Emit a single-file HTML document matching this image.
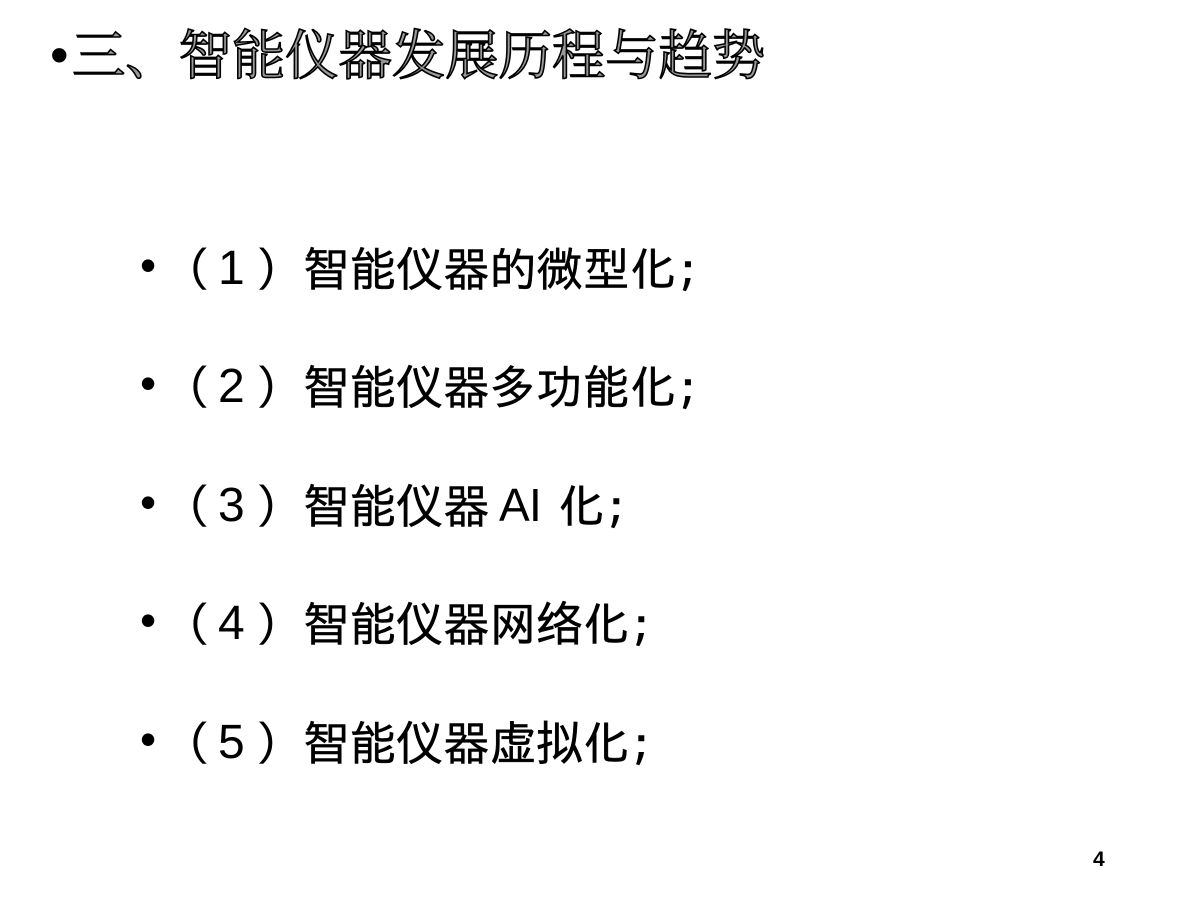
<!DOCTYPE html>
<html lang="zh"><head><meta charset="utf-8"><style>
html,body{margin:0;padding:0;background:#fff}
#p{position:relative;width:1200px;height:900px;overflow:hidden;background:#fff;color:#000;font-family:"Liberation Sans",sans-serif}
.t{position:absolute;white-space:pre;line-height:1}
.b{font-size:46.67px;font-family:"IPAGothic","WenQuanYi Zen Hei",sans-serif;-webkit-text-stroke:0.45px #000}
.n{font-size:48px;font-family:"Liberation Sans",sans-serif}
.d{font-size:46px}
.title{font-size:53.33px;font-family:"Noto Serif CJK SC",serif;font-weight:400;color:#999;-webkit-text-stroke:1.6px #000}
</style></head><body><div id="p">
<div class="t" style="left:50px;top:29px;font-size:53px">•</div>
<div class="t title" style="left:72px;top:26px">三、智能仪器发展历程与趋势</div>

<div class="t d" style="left:140px;top:242px">•</div>
<div class="t b" style="left:163px;top:246px">（</div>
<div class="t n" style="left:218px;top:245px">1</div>
<div class="t b" style="left:256px;top:246px">）</div>
<div class="t b" style="left:303px;top:246px">智能仪器的微型化;</div>

<div class="t d" style="left:140px;top:360px">•</div>
<div class="t b" style="left:163px;top:364px">（</div>
<div class="t n" style="left:218px;top:363px">2</div>
<div class="t b" style="left:256px;top:364px">）</div>
<div class="t b" style="left:303px;top:364px">智能仪器多功能化;</div>

<div class="t d" style="left:140px;top:479px">•</div>
<div class="t b" style="left:163px;top:483px">（</div>
<div class="t n" style="left:218px;top:482px">3</div>
<div class="t b" style="left:256px;top:483px">）</div>
<div class="t b" style="left:303px;top:483px">智能仪器</div>
<div class="t n" style="left:499px;top:482px;font-size:46px">A</div>
<div class="t n" style="left:529px;top:482px;font-size:46px">I</div>
<div class="t b" style="left:558px;top:483px">化;</div>

<div class="t d" style="left:140px;top:597px">•</div>
<div class="t b" style="left:163px;top:601px">（</div>
<div class="t n" style="left:218px;top:600px">4</div>
<div class="t b" style="left:256px;top:601px">）</div>
<div class="t b" style="left:303px;top:601px">智能仪器网络化;</div>

<div class="t d" style="left:140px;top:716px">•</div>
<div class="t b" style="left:163px;top:720px">（</div>
<div class="t n" style="left:218px;top:719px">5</div>
<div class="t b" style="left:256px;top:720px">）</div>
<div class="t b" style="left:303px;top:720px">智能仪器虚拟化;</div>

<div class="t" style="left:1093px;top:849px;font-size:21px;font-weight:bold">4</div>
</div></body></html>
